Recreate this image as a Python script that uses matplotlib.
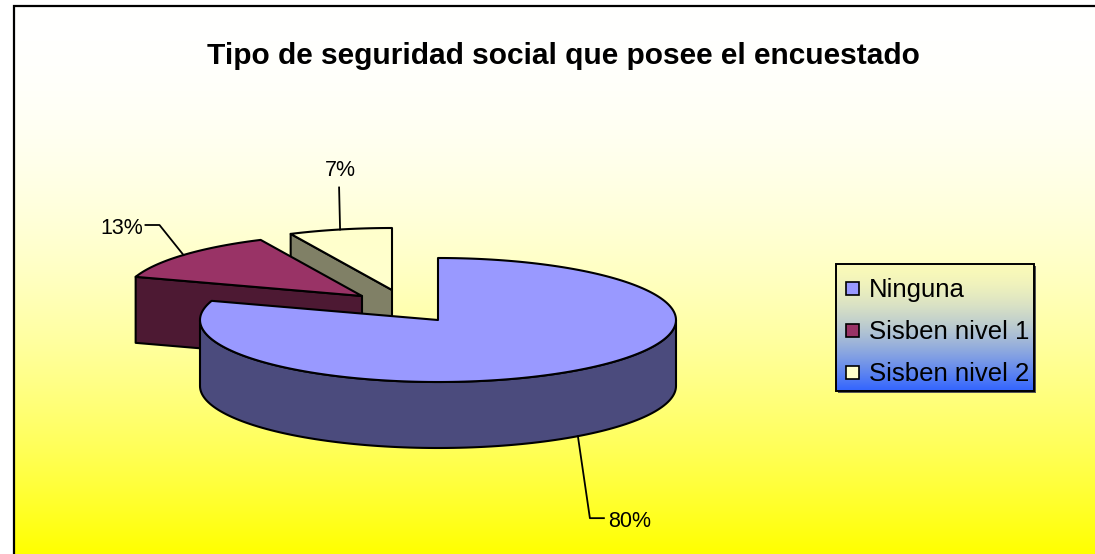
import numpy as np
import matplotlib.pyplot as plt
from matplotlib.patches import Polygon, Rectangle

plt.rcParams['font.family'] = ['Liberation Sans', 'DejaVu Sans']

# data
categories = ['Ninguna', 'Sisben nivel 1', 'Sisben nivel 2']
shares = [80, 13, 7]
pct_labels = ['80%', '13%', '7%']

# style
top_colors = ['#9999ff', '#993366', '#ffffcc']
side_colors = ['#4b4b7d', '#4d1933', '#808066']
shift = [(0, 0), (-76, -24), (-46, -30)]        # exploded slices (px)
leader = [((12, 82), 14), ((-24, -30), -14), ((-1, -42), 0)]

W, H = 1095, 554
cx, cy = 438, 320
rx, ry = 238, 62
depth = 66
lw = 1.5

fig = plt.figure(figsize=(W / 100, H / 100), dpi=100)
ax = fig.add_axes([0, 0, 1, 1])

# chart area background, white -> yellow
t = np.linspace(0, 1, 300)[:, None]
bg = np.ones((300, 1, 3))
bg[:, :, 2] = 1 - t ** 2
ax.imshow(bg, extent=(14, W + 5, H, 6), aspect='auto', zorder=0, interpolation='bilinear')
ax.plot([14, 14, W + 5], [H + 5, 6, 6], color='k', lw=1.6, zorder=1, solid_joinstyle='miter')


def pt(th, ox, oy, dz=0.0):
    th = np.radians(th)
    return np.column_stack([cx + ox + rx * np.cos(th), cy + oy - ry * np.sin(th) + dz])


def face(xy, color, z):
    ax.add_patch(Polygon(xy, closed=True, facecolor=color, edgecolor='k', lw=lw,
                         joinstyle='round', zorder=z))


# slice angles: start at 12 o'clock and go clockwise
ends = 90 - 360 * np.cumsum([0] + shares)[:-1] / 100.0
starts = ends - 360 * np.array(shares) / 100.0
mids = (starts + ends) / 2

order = np.argsort(-np.sin(np.radians(mids)))
z = 2
for i in order:
    t1, t2 = starts[i], ends[i]
    ox, oy = shift[i]
    c = np.array([[cx + ox, cy + oy]])
    cd = c + [0, depth]
    # cut faces facing the viewer
    for th, vis in ((t2, np.cos(np.radians(t2)) < -1e-6), (t1, np.cos(np.radians(t1)) > 1e-6)):
        if vis:
            e = pt([th], ox, oy)
            ed = pt([th], ox, oy, depth)
            face(np.vstack([c, e, ed, cd]), side_colors[i], z)
            z += 1
    # outer side, front half only
    for k in range(-2, 2):
        a, b = max(t1, 180 + 360 * k), min(t2, 360 + 360 * k)
        if b > a:
            arc = np.linspace(a, b, 120)
            face(np.vstack([pt(arc, ox, oy), pt(arc[::-1], ox, oy, depth)]), side_colors[i], z)
            z += 1
    arc = np.linspace(t1, t2, 200)
    face(np.vstack([c, pt(arc, ox, oy)]), top_colors[i], z)
    z += 1

# percentage labels with leader lines
for i in range(len(shares)):
    ox, oy = shift[i]
    m = mids[i]
    dz = depth if np.sin(np.radians(m)) < 0 else 0
    p0 = pt([m], ox, oy, dz)[0]
    (ex, ey), hx = leader[i]
    p1 = p0 + [ex, ey]
    p2 = p1 + [hx, 0]
    ax.plot([p0[0], p1[0], p2[0]], [p0[1], p1[1], p2[1]], color='k', lw=1.3, zorder=20)
    if hx > 0:
        ax.text(p2[0] + 4, p2[1] + 9, pct_labels[i], ha='left', va='baseline', fontsize=15.5, zorder=21)
    elif hx < 0:
        ax.text(p2[0] - 2, p2[1] + 9, pct_labels[i], ha='right', va='baseline', fontsize=15.5, zorder=21)
    else:
        ax.text(p2[0] + 1, p2[1] - 11, pct_labels[i], ha='center', va='baseline', fontsize=15.5, zorder=21)

# title
ax.text(563, 64, 'Tipo de seguridad social que posee el encuestado', ha='center', va='baseline',
        fontsize=21.5, fontweight='bold', zorder=21)

# legend, yellow -> blue box
lx0, lx1, ly0, ly1 = 836, 1034, 264, 391
s = np.linspace(0, 1, 200)[:, None] ** 1.6
c_top = np.array([250, 250, 185]) / 255
c_bot = np.array([50, 100, 255]) / 255
lg = (c_top + (c_bot - c_top) * s)[:, None, :]
ax.add_patch(Rectangle((lx0 + 2, ly0 + 2), lx1 - lx0, ly1 - ly0, facecolor='#555555',
                       edgecolor='none', zorder=21))
ax.imshow(lg, extent=(lx0, lx1, ly1, ly0), aspect='auto', zorder=22, interpolation='bilinear')
ax.add_patch(Rectangle((lx0, ly0), lx1 - lx0, ly1 - ly0, facecolor='none', edgecolor='k',
                       lw=1.4, zorder=23))
for i, name in enumerate(categories):
    yc = 288.5 + 42 * i
    ax.add_patch(Rectangle((846, yc - 7), 13, 13, facecolor=top_colors[i], edgecolor='k',
                           lw=1.2, zorder=24))
    ax.text(869, yc + 8.5, name, ha='left', va='baseline', fontsize=18.5, zorder=24)

ax.set_xlim(0, W)
ax.set_ylim(H, 0)
ax.axis('off')
fig.savefig('out.png', dpi=100)
